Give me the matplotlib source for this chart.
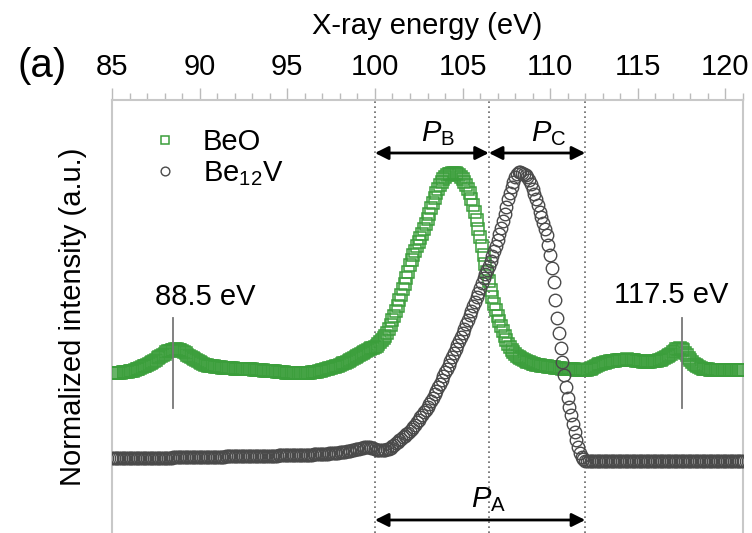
import numpy as np
import matplotlib
matplotlib.use('Agg')
import matplotlib.pyplot as plt

plt.rcParams['font.family'] = ['Liberation Sans', 'DejaVu Sans']
plt.rcParams['mathtext.fontset'] = 'custom'
plt.rcParams['mathtext.rm'] = 'Liberation Sans'
plt.rcParams['mathtext.it'] = 'Liberation Sans:italic'

# energy grid, 0.1 eV steps from 85 to 121 eV
energy = np.round(np.arange(85.0, 121.05, 0.1), 1)

# BeO spectrum (offset upwards), arbitrary units
beo = [
    88, 88, 88, 88, 88, 88, 89, 89, 89, 89,            # 85
    90, 90, 90, 91, 92, 92, 93, 94, 95, 95,            # 86
    96, 97, 98, 99, 100, 101, 103, 104, 105, 106,      # 87
    107, 109, 110, 110, 111, 111, 112, 112, 111, 111,  # 88
    110, 109, 108, 106, 105, 104, 103, 102, 101, 100,  # 89
    99, 98, 97, 96, 96, 95, 95, 95, 95, 94,            # 90
    94, 94, 94, 93, 93, 93, 93, 93, 93, 93,            # 91
    92, 92, 92, 92, 92, 92, 92, 92, 92, 92,            # 92
    92, 91, 91, 91, 91, 91, 91, 90, 90, 90,            # 93
    90, 90, 90, 90, 89, 89, 89, 89, 89, 88,            # 94
    88, 88, 88, 88, 88, 88, 88, 88, 88, 88,            # 95
    88, 88, 88, 88, 89, 89, 89, 89, 90, 90,            # 96
    91, 91, 92, 92, 93, 93, 94, 94, 95, 95,            # 97
    96, 97, 98, 98, 99, 100, 101, 102, 103, 104,       # 98
    105, 106, 107, 108, 109, 110, 111, 112, 113, 113,  # 99
    114, 115, 117, 119, 121, 123, 125, 128, 132, 136,  # 100
    141, 145, 150, 155, 161, 166, 172, 177, 183, 189,  # 101
    196, 201, 206, 210, 215, 219, 223, 227, 232, 237,  # 102
    242, 247, 253, 258, 263, 268, 272, 276, 279, 282,  # 103
    284, 286, 287, 287, 288, 288, 288, 287, 286, 284,  # 104
    282, 279, 276, 272, 268, 262, 256, 249, 241, 232,  # 105
    224, 215, 206, 197, 189, 180, 171, 164, 157, 151,  # 106
    145, 140, 135, 130, 125, 121, 117, 114, 111, 109,  # 107
    107, 105, 104, 103, 102, 101, 100, 99, 99, 98,     # 108
    97, 97, 96, 96, 96, 95, 95, 95, 95, 94,            # 109
    94, 94, 94, 93, 93, 93, 93, 92, 92, 92,            # 110
    92, 92, 92, 92, 92, 91, 91, 91, 91, 91,            # 111
    91, 91, 92, 92, 93, 94, 95, 96, 97, 97,            # 112
    98, 98, 99, 99, 100, 100, 100, 100, 101, 101,      # 113
    101, 101, 101, 101, 102, 101, 101, 101, 101, 100,  # 114
    100, 100, 100, 99, 99, 99, 99, 99, 100, 100,       # 115
    100, 100, 101, 101, 102, 103, 104, 105, 106, 107,  # 116
    109, 110, 112, 112, 113, 112, 111, 108, 106, 103,  # 117
    101, 99, 97, 96, 95, 94, 93, 92, 92, 92,           # 118
    92, 91, 91, 91, 91, 91, 91, 91, 91, 91,            # 119
    91, 91, 91, 91, 91, 91, 91, 91, 91, 91,            # 120
    91,                                                # 121
]

# Be12V spectrum, arbitrary units
be12v = [
    3, 3, 3, 3, 3, 3, 3, 3, 3, 3,                      # 85
    3, 3, 3, 3, 3, 3, 3, 3, 3, 3,                      # 86
    3, 3, 3, 3, 3, 3, 3, 3, 3, 3,                      # 87
    3, 3, 3, 3, 3, 4, 4, 4, 4, 4,                      # 88
    4, 4, 4, 4, 4, 4, 4, 4, 4, 4,                      # 89
    4, 4, 4, 4, 4, 4, 4, 4, 4, 4,                      # 90
    4, 4, 4, 4, 4, 5, 5, 5, 5, 5,                      # 91
    5, 5, 5, 5, 5, 5, 5, 5, 5, 5,                      # 92
    5, 5, 5, 5, 5, 5, 5, 5, 5, 5,                      # 93
    5, 5, 5, 5, 5, 6, 6, 6, 6, 6,                      # 94
    6, 6, 6, 6, 6, 6, 6, 6, 6, 6,                      # 95
    6, 6, 6, 6, 6, 7, 7, 7, 7, 7,                      # 96
    7, 7, 7, 7, 8, 8, 8, 8, 8, 8,                      # 97
    9, 9, 9, 9, 10, 10, 10, 11, 11, 12,                # 98
    12, 12, 13, 13, 14, 14, 14, 14, 13, 13,            # 99
    12, 11, 11, 11, 11, 11, 11, 12, 12, 13,            # 100
    15, 16, 18, 19, 21, 22, 24, 25, 27, 28,            # 101
    30, 32, 34, 36, 39, 41, 44, 46, 49, 51,            # 102
    54, 57, 60, 63, 67, 70, 74, 77, 81, 85,            # 103
    89, 92, 96, 100, 104, 108, 112, 116, 120, 124,     # 104
    128, 132, 137, 141, 146, 150, 155, 159, 164, 168,  # 105
    173, 178, 183, 187, 191, 195, 200, 205, 210, 215,  # 106
    221, 227, 233, 240, 247, 254, 262, 268, 274, 279,  # 107
    284, 287, 289, 289, 288, 287, 286, 284, 281, 277,  # 108
    272, 267, 262, 256, 249, 244, 238, 232, 226, 216,  # 109
    206, 193, 179, 161, 143, 128, 113, 99, 86, 74,     # 110
    63, 54, 46, 37, 29, 21, 14, 8, 4, 2,               # 111
    0, 0, 0, 0, 0, 0, 0, 0, 0, 0,                      # 112
    0, 0, 0, 0, 0, 0, 0, 0, 0, 0,                      # 113
    0, 0, 0, 0, 0, 0, 0, 0, 0, 0,                      # 114
    0, 0, 0, 0, 0, 0, 0, 0, 0, 0,                      # 115
    0, 0, 0, 0, 0, 0, 0, 0, 0, 0,                      # 116
    0, 0, 0, 0, 0, 0, 0, 0, 0, 0,                      # 117
    0, 0, 0, 0, 0, 0, 0, 0, 0, 0,                      # 118
    0, 0, 0, 0, 0, 0, 0, 0, 0, 0,                      # 119
    0, 0, 0, 0, 0, 0, 0, 0, 0, 0,                      # 120
    0,                                                 # 121
]

# energies of the guide lines and satellite peaks
region_edges = [100, 106.5, 112]
satellites = [88.5, 117.5]

fig = plt.figure(figsize=(7.52, 5.33), dpi=100)
ax = fig.add_axes([112 / 752, 0, 631 / 752, 433 / 533])

ax.plot(energy, beo, ls='none', marker='s', ms=8.5, mfc='none',
        mec='#3b9e3b', mew=1.1, label='BeO', zorder=3)
ax.plot(energy, be12v, ls='none', marker='o', ms=9, mfc='none',
        mec='#4a4a4a', mew=1, label='Be$_{12}$V', zorder=4)

ax.set_xlim(85, 121)
ax.set_ylim(-72, 361)

# x axis on top
ax.xaxis.tick_top()
ax.xaxis.set_label_position('top')
ax.set_xticks(range(85, 121, 5))
ax.set_xticks(range(85, 122), minor=True)
ax.tick_params(axis='x', which='major', direction='out', length=9, width=1,
               color='#bbbbbb', labelsize=21, pad=5)
ax.tick_params(axis='x', which='minor', direction='out', length=5, width=1,
               color='#bbbbbb')
ax.set_yticks([])
for side in ['left', 'right', 'top']:
    ax.spines[side].set_color('#c8c8c8')
    ax.spines[side].set_linewidth(1.5)
ax.spines['bottom'].set_visible(False)

ax.set_xlabel('X-ray energy (eV)', fontsize=21, labelpad=13)
ax.set_ylabel('Normalized intensity (a.u.)', fontsize=21, labelpad=18)

# dotted region boundaries
for e in region_edges:
    ax.axvline(e, color='#666666', lw=1.2, ls=(0, (1, 2)), zorder=1)

# satellite markers
for e in satellites:
    ax.plot([e, e], [53, 143], color='#777777', lw=1.3, zorder=5)
ax.text(90.3, 164, '88.5 eV', ha='center', va='center', fontsize=21)
ax.text(116.9, 166, '117.5 eV', ha='center', va='center', fontsize=21)

# double arrows for the energy ranges
arrow = dict(arrowstyle='<|-|>', color='black', lw=2, mutation_scale=20,
             shrinkA=0, shrinkB=0)
ax.annotate('', xy=(region_edges[0], 308), xytext=(region_edges[1], 308), arrowprops=arrow)
ax.annotate('', xy=(region_edges[1], 308), xytext=(region_edges[2], 308), arrowprops=arrow)
ax.annotate('', xy=(region_edges[0], -59), xytext=(region_edges[2], -59), arrowprops=arrow)
ax.text(103.6, 327, r'$P_{\mathrm{B}}$', ha='center', va='center', fontsize=21)
ax.text(109.9, 327, r'$P_{\mathrm{C}}$', ha='center', va='center', fontsize=21)
ax.text(106.5, -39, r'$P_{\mathrm{A}}$', ha='center', va='center', fontsize=21)

ax.legend(loc='upper left', bbox_to_anchor=(0.061, 0.935), frameon=False,
          fontsize=21, handlelength=1, handletextpad=0.8, labelspacing=0.1,
          borderpad=0, borderaxespad=0, markerscale=0.7)

fig.text(42 / 752, 1 - 66 / 533, '(a)', fontsize=29, ha='center', va='center')

fig.savefig('out.png', dpi=100)
